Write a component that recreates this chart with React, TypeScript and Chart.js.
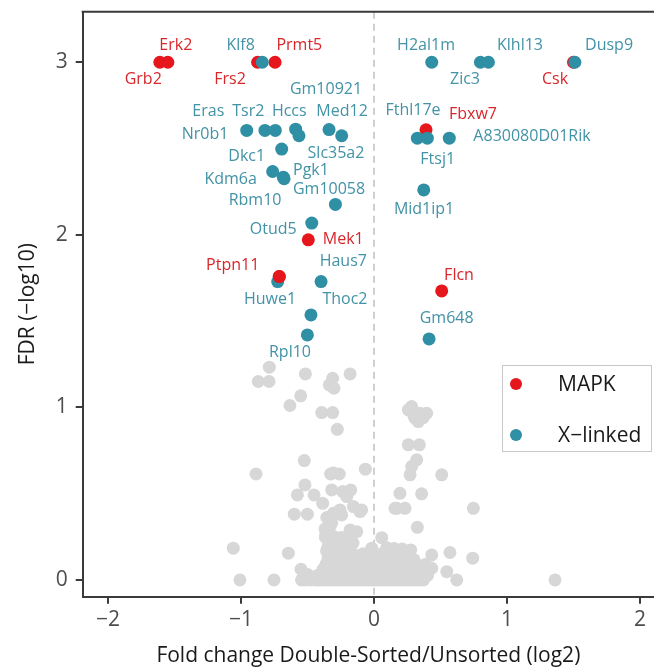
import React, { useEffect, useRef } from "react";
import { Chart, registerables } from "chart.js";

Chart.register(...registerables);

// ---------- data ----------
const mapkGenes = ["Grb2", "Erk2", "Frs2", "Prmt5", "Csk", "Fbxw7", "Mek1", "Ptpn11", "Flcn"];
const mapkFold = [-1.61, -1.55, -0.875, -0.744, 1.5, 0.391, -0.494, -0.712, 0.509];
const mapkFdr = [3.0, 3.0, 3.0, 3.0, 3.0, 2.609, 1.971, 1.758, 1.675];

const xGenes = [
  "Klf8", "H2al1m", "Zic3", "Klhl13", "Dusp9", "Nr0b1", "Eras", "Tsr2", "Hccs", "Gm10921",
  "Med12", "Slc35a2", "Dkc1", "Kdm6a", "Pgk1", "Rbm10", "Gm10058", "Otud5", "Huwe1", "Haus7",
  "Thoc2", "Rpl10", "Fthl17e", "Ftsj1", "A830080D01Rik", "Mid1ip1", "Gm648",
];
const xFold = [
  -0.84, 0.434, 0.8, 0.86, 1.51, -0.957, -0.82, -0.742, -0.589, -0.564,
  -0.338, -0.243, -0.694, -0.762, -0.682, -0.676, -0.29, -0.468, -0.724, -0.398,
  -0.474, -0.501, 0.326, 0.401, 0.566, 0.374, 0.414,
];
const xFdr = [
  3.0, 3.0, 3.0, 3.0, 3.0, 2.605, 2.605, 2.605, 2.612, 2.574,
  2.61, 2.574, 2.497, 2.367, 2.334, 2.325, 2.176, 2.068, 1.729, 1.729,
  1.536, 1.42, 2.56, 2.56, 2.56, 2.26, 1.397,
];

const otherFold = [
  -0.787, -0.87, -0.789, -0.516, -0.311, -0.336, -0.301, -0.18, -0.551, -0.632,
  -0.393, -0.311, -0.276, 0.283, 0.346, 0.308, 0.258, 0.396, 0.333, 0.3, 0.37,
  -0.524, -0.887, -0.065, -0.326, -0.261, -0.306, 0.258, 0.341, 0.321, 0.283, 0.271, 0.509,
  -0.519, -0.576, -0.451, -0.318, -0.235, -0.175, -0.205, -0.386, -0.155, -0.105, 0.195, 0.358,
  -0.599, -0.501, -0.306, -0.243, -0.256, -0.093, 0.171, 0.233, 0.158, 0.747,
  -0.331, -0.18, -0.13, 0.326,
  -1.058, -0.644, -0.549, 0.058, -0.017, 0.571, 0.742, 0.434, 0.276, 0.547, 0.434,
  -0.355, -0.332, -0.362, -0.318, -0.289, -0.341, -0.305, -0.356, -0.262, -0.218, -0.158, -0.29,
  -1.008, -0.752, -0.545, -0.512, -0.478, -0.441, -0.415, -0.389, -0.362, -0.337, -0.309,
  -0.284, -0.262, -0.236, -0.211, -0.187, -0.163, -0.139, -0.114, -0.091, -0.066, -0.043,
  -0.018, 0.006, 0.031, 0.054, 0.079, 0.103, 0.128, 0.151, 0.176, 0.198, 0.224, 0.247,
  0.271, 0.296, 0.318, 0.345, 0.372, 0.622, 1.361,
  -0.498, -0.421, -0.352, -0.298, -0.244, -0.176, -0.122, -0.071, -0.012, 0.041, 0.094,
  0.147, 0.212, 0.259, 0.305, 0.351, 0.402,
  -0.383, -0.322, -0.271, -0.209, -0.152, -0.098, -0.038, 0.016, 0.068, 0.121, 0.183,
  0.236, 0.281, 0.331,
  -0.361, -0.305, -0.248, -0.187, -0.129, -0.061, 0.003, 0.052, 0.109, 0.164, 0.221,
  0.267, 0.318, 0.385,
  -0.346, -0.292, -0.226, -0.171, -0.112, -0.046, 0.027, 0.083, 0.142, 0.197, 0.248, 0.302,
  -0.337, -0.281, -0.214, -0.152, -0.083, -0.021, 0.064, 0.118, 0.174, 0.226,
  -0.352, -0.296, -0.238, 0.096, 0.152, 0.212,
  -0.287, -0.222, -0.365, -0.301, -0.245, -0.183, -0.368, -0.318,
];
const otherFdr = [
  1.233, 1.15, 1.15, 1.194, 1.169, 1.13, 1.111, 1.194, 1.067, 1.011,
  0.97, 0.97, 0.873, 1.005, 0.966, 0.937, 0.986, 0.966, 0.918, 0.95, 0.94,
  0.692, 0.614, 0.642, 0.614, 0.614, 0.62, 0.783, 0.783, 0.696, 0.657, 0.609, 0.609,
  0.551, 0.493, 0.493, 0.522, 0.512, 0.522, 0.483, 0.444, 0.425, 0.396, 0.502, 0.499,
  0.381, 0.381, 0.386, 0.377, 0.406, 0.406, 0.415, 0.415, 0.415, 0.415,
  0.309, 0.29, 0.28, 0.305,
  0.184, 0.155, 0.062, 0.245, 0.184, 0.159, 0.126, 0.145, 0.174, 0.048, 0.068,
  0.362, 0.34, 0.274, 0.255, 0.238, 0.212, 0.195, 0.166, 0.176, 0.205, 0.214, 0.135,
  0, 0, 0, 0, 0, 0, 0, 0, 0, 0, 0,
  0, 0, 0, 0, 0, 0, 0, 0, 0, 0, 0,
  0, 0, 0, 0, 0, 0, 0, 0, 0, 0, 0, 0,
  0, 0, 0, 0, 0, 0, 0,
  0.031, 0.028, 0.033, 0.027, 0.032, 0.029, 0.034, 0.026, 0.031, 0.028, 0.033,
  0.027, 0.03, 0.032, 0.029, 0.031, 0.026,
  0.061, 0.058, 0.063, 0.057, 0.062, 0.059, 0.064, 0.056, 0.061, 0.058, 0.063,
  0.057, 0.06, 0.059,
  0.091, 0.088, 0.093, 0.087, 0.092, 0.089, 0.094, 0.086, 0.091, 0.088, 0.093,
  0.087, 0.09, 0.089,
  0.121, 0.118, 0.123, 0.117, 0.122, 0.119, 0.124, 0.116, 0.121, 0.118, 0.123, 0.117,
  0.151, 0.148, 0.153, 0.147, 0.152, 0.149, 0.154, 0.146, 0.151, 0.148,
  0.181, 0.178, 0.183, 0.187, 0.182, 0.179,
  0.212, 0.208, 0.248, 0.251, 0.246, 0.252, 0.296, 0.331,
];

const xTicks = [-2, -1, 0, 1, 2];
const yTicks = [0, 1, 2, 3];
const legendItems = ["MAPK", "X\u2212linked"];

// label placement (pixel offsets from the point), like ggrepel output
const labelOffsets: Record<string, [number, number]> = {
  Erk2: [8, -16.5], Grb2: [-16.6, 17.5], Frs2: [-27.6, 17.5], Prmt5: [24.3, -16.5],
  Csk: [-18.5, 17.5], Fbxw7: [47, -15], Mek1: [35, 0], Ptpn11: [-46.6, -10.7], Flcn: [17.3, -15],
  Klf8: [-21.6, -16.5], H2al1m: [-5.7, -16.8], Zic3: [-15.4, 17.5], Klhl13: [31.6, -16.8],
  Dusp9: [34.2, -16.8], Nr0b1: [-41.7, 4.4], Eras: [-56.6, -18.6], Tsr2: [-27, -18.6],
  Hccs: [-6.4, -17.4], Gm10921: [27, -46], Med12: [13, -18.1], Slc35a2: [-5.7, 18],
  Dkc1: [-35, 7.7], Kdm6a: [-42, 8.3], Pgk1: [27.7, -6.7], Rbm10: [-29, 22],
  Gm10058: [-6.4, -15.3], Otud5: [-38.5, 6], Huwe1: [-7.7, 18.3], Haus7: [22.2, -19.7],
  Thoc2: [34, -15], Rpl10: [-17.4, 17.7], Fthl17e: [-4.4, -27.4], Ftsj1: [10.4, 21.6],
  A830080D01Rik: [82.7, -1.4], Mid1ip1: [0.3, 19], Gm648: [17.6, -20.7],
};

const RED = "#e5171c";
const TEAL = "#2f8fa4";
const RED_TEXT = "#d8262b";
const TEAL_TEXT = "#4393a6";
const GRAY = "#d7d7d7";
const FONT = "'Open Sans', 'Noto Sans', sans-serif";

const mk = (xs: number[], ys: number[]) => xs.map((x, i) => ({ x, y: ys[i] }));

const noPad = (s: any) => {
  s.paddingTop = 0;
  s.paddingBottom = 0;
  s.paddingLeft = 0;
  s.paddingRight = 0;
};

export default function App() {
  const ref = useRef<HTMLCanvasElement | null>(null);

  useEffect(() => {
    if (!ref.current) return;

    const zeroLine = {
      id: "zeroLine",
      beforeDatasetsDraw(chart: any) {
        const { ctx, chartArea, scales } = chart;
        const x = scales.x.getPixelForValue(0);
        ctx.save();
        ctx.strokeStyle = "#c4c4c4";
        ctx.lineWidth = 1.6;
        ctx.setLineDash([7, 5]);
        ctx.beginPath();
        ctx.moveTo(x, chartArea.top);
        ctx.lineTo(x, chartArea.bottom);
        ctx.stroke();
        ctx.restore();
      },
    };

    const frameTop = {
      id: "frameTop",
      afterDraw(chart: any) {
        const { ctx, chartArea } = chart;
        ctx.save();
        ctx.strokeStyle = "#3a3a3a";
        ctx.lineWidth = 2;
        ctx.beginPath();
        ctx.moveTo(chartArea.left - 1, chartArea.top);
        ctx.lineTo(chartArea.right, chartArea.top);
        ctx.stroke();
        ctx.restore();
      },
    };

    const geneLabels = {
      id: "geneLabels",
      afterDatasetsDraw(chart: any) {
        const { ctx, scales } = chart;
        ctx.save();
        ctx.font = `16px ${FONT}`;
        ctx.textAlign = "center";
        ctx.textBaseline = "middle";
        const draw = (names: string[], xs: number[], ys: number[], color: string) => {
          ctx.fillStyle = color;
          names.forEach((n, i) => {
            const off = labelOffsets[n] || [0, -16];
            const px = scales.x.getPixelForValue(xs[i]);
            const py = scales.y.getPixelForValue(ys[i]);
            ctx.fillText(n, px + off[0], py + off[1]);
          });
        };
        draw(xGenes, xFold, xFdr, TEAL_TEXT);
        draw(mapkGenes, mapkFold, mapkFdr, RED_TEXT);
        ctx.restore();
      },
    };

    const legendBox = {
      id: "legendBox",
      afterDraw(chart: any) {
        const { ctx, chartArea } = chart;
        const w = 149;
        const h = 86;
        const left = chartArea.right - w - 3;
        const top = 365;
        ctx.save();
        ctx.fillStyle = "#ffffff";
        ctx.fillRect(left, top, w, h);
        ctx.strokeStyle = "#c8c8c8";
        ctx.lineWidth = 1;
        ctx.strokeRect(left + 0.5, top + 0.5, w, h);
        const colors = [RED, TEAL];
        legendItems.forEach((t, i) => {
          const cy = top + 19 + i * 51;
          ctx.fillStyle = colors[i];
          ctx.beginPath();
          ctx.arc(left + 14, cy, 6, 0, Math.PI * 2);
          ctx.fill();
          ctx.fillStyle = "#1a1a1a";
          ctx.font = `21px ${FONT}`;
          ctx.textAlign = "left";
          ctx.textBaseline = "middle";
          ctx.fillText(t, left + 56, cy + 1);
        });
        ctx.restore();
      },
    };

    const topRed = mapkGenes.map((g, i) => ({ g, x: mapkFold[i], y: mapkFdr[i] })).filter((d) => d.g === "Ptpn11");

    const chart = new Chart(ref.current, {
      type: "scatter",
      data: {
        datasets: [
          { label: "other", data: mk(otherFold, otherFdr), backgroundColor: GRAY, pointRadius: 6.5, borderWidth: 0, order: 3 },
          { label: "MAPK", data: mk(mapkFold, mapkFdr), backgroundColor: RED, pointRadius: 6.5, borderWidth: 0, order: 2 },
          { label: "X-linked", data: mk(xFold, xFdr), backgroundColor: TEAL, pointRadius: 6.5, borderWidth: 0, order: 1 },
          { label: "MAPK top", data: topRed.map((d) => ({ x: d.x, y: d.y })), backgroundColor: RED, pointRadius: 6.5, borderWidth: 0, order: 0 },
        ],
      },
      options: {
        responsive: false,
        animation: false,
        devicePixelRatio: 1,
        layout: { autoPadding: false, padding: { top: 11.7, left: 0, right: 0, bottom: 0 } },
        plugins: { legend: { display: false }, tooltip: { enabled: false } },
        scales: {
          x: {
            type: "linear",
            min: -2.19,
            max: 2.105,
            afterBuildTicks: (s: any) => { s.ticks = xTicks.map((v) => ({ value: v })); },
            afterFit: (s: any) => { s.height = 72.3; noPad(s); },
            grid: { drawOnChartArea: false, drawTicks: true, tickLength: 7, tickColor: "#3a3a3a", lineWidth: 2 },
            border: { display: true, color: "#3a3a3a", width: 2 },
            ticks: {
              color: "#4d4d4d",
              font: { size: 21, family: FONT },
              padding: 4,
              maxRotation: 0,
              callback: (v: any) => String(v).replace("-", "\u2212"),
            },
            title: {
              display: true,
              text: "Fold change Double-Sorted/Unsorted (log2)",
              color: "#1a1a1a",
              font: { size: 21, family: FONT },
              padding: { top: 0, bottom: 0 },
            },
          },
          y: {
            type: "linear",
            min: -0.097,
            max: 3.293,
            afterBuildTicks: (s: any) => { s.ticks = yTicks.map((v) => ({ value: v })); },
            afterFit: (s: any) => { s.width = 82.7; noPad(s); },
            grid: { drawOnChartArea: false, drawTicks: true, tickLength: 7, tickColor: "#3a3a3a", lineWidth: 2 },
            border: { display: true, color: "#3a3a3a", width: 2 },
            ticks: {
              color: "#4d4d4d",
              font: { size: 21, family: FONT },
              padding: 8,
              callback: (v: any) => String(v),
            },
            title: {
              display: true,
              text: "FDR (\u2212log10)",
              color: "#1a1a1a",
              font: { size: 21, family: FONT },
              padding: { top: 15, bottom: 0 },
            },
          },
        },
      },
      plugins: [zeroLine, geneLabels, frameTop, legendBox],
    } as any);

    return () => chart.destroy();
  }, []);

  return (
    <div style={{ position: "absolute", left: 0, top: 0, width: 654, height: 669, background: "#fff" }}>
      <canvas ref={ref} width={654} height={669} style={{ display: "block" }} />
    </div>
  );
}
